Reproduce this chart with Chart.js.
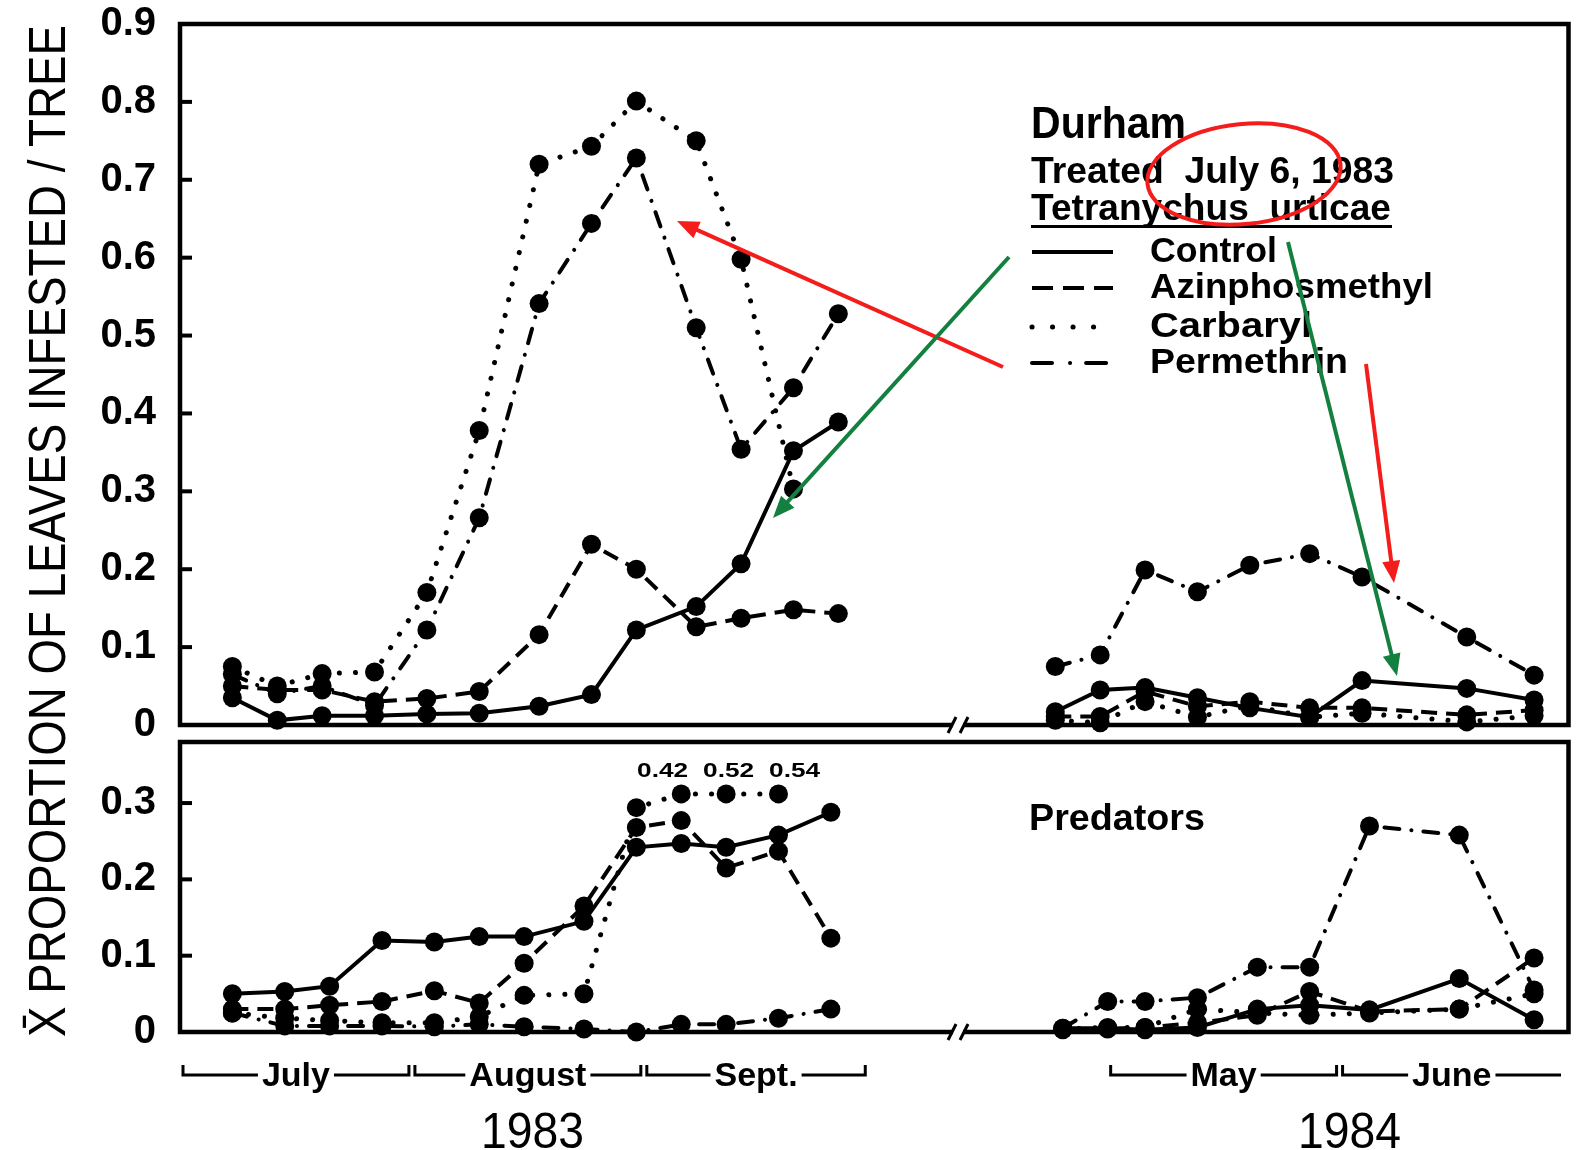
<!DOCTYPE html>
<html>
<head>
<meta charset="utf-8">
<script src="https://cdn.jsdelivr.net/npm/chart.js@4.4.1/dist/chart.umd.min.js"></script>
<style>
  html, body { margin: 0; padding: 0; background: #fff; }
  #wrap { position: relative; width: 1578px; height: 1150px; }
  #wrap canvas { position: absolute; left: 0; top: 0; }
</style>
</head>
<body>
<div id="wrap">
  <canvas id="mites" width="1578" height="1150"></canvas>
  <canvas id="preds" width="1578" height="1150"></canvas>
</div>
<script>
// Sample dates: days after July 1 1983, and days after May 1 1984
const miteDays1983 = [7, 13, 19, 26, 33, 40, 48, 55, 61, 69, 75, 82, 88];
const miteDays1984 = [-7, -1, 5, 12, 19, 27, 34, 48, 57];
const predDays1983 = [7, 14, 20, 27, 34, 40, 46, 54, 61, 67, 73, 80, 87];
const predDays1984 = [-6, 0, 5, 12, 20, 27, 35, 47, 57];
const may1984 = 124; // where May 1 1984 sits on the broken time axis

const treatments = ['Control', 'Azinphosmethyl', 'Carbaryl', 'Permethrin'];

// Tetranychus urticae, proportion of leaves infested
const miteControl1983 = [0.035, 0.006, 0.012, 0.012, 0.014, 0.015, 0.024, 0.039, 0.122, 0.152, 0.207, 0.352, 0.389];
const miteAzinphos1983 = [0.05, 0.045, 0.045, 0.03, 0.034, 0.043, 0.116, 0.232, 0.2, 0.126, 0.137, 0.148, 0.143];
const miteCarbaryl1983 = [0.075, 0.05, 0.066, 0.068, 0.17, 0.378, 0.72, 0.743, 0.801, 0.75, 0.598, 0.303];
const mitePermethrin1983 = [0.065, 0.04, 0.05, 0.025, 0.122, 0.266, 0.541, 0.644, 0.728, 0.51, 0.354, 0.433, 0.528];
const miteControl1984 = [0.017, 0.045, 0.048, 0.035, 0.022, 0.01, 0.057, 0.047, 0.032];
const miteAzinphos1984 = [0.011, 0.011, 0.043, 0.024, 0.03, 0.022, 0.022, 0.013, 0.019];
const miteCarbaryl1984 = [0.006, 0.003, 0.03, 0.01, 0.025, 0.01, 0.015, 0.004, 0.012];
const mitePermethrin1984 = [0.075, 0.09, 0.199, 0.171, 0.205, 0.22, 0.19, 0.113, 0.064];

// Predators
const predControl1983 = [0.05, 0.053, 0.06, 0.12, 0.118, 0.125, 0.125, 0.145, 0.242, 0.247, 0.242, 0.258, 0.288];
const predAzinphos1983 = [0.03, 0.03, 0.035, 0.04, 0.054, 0.038, 0.09, 0.165, 0.268, 0.277, 0.215, 0.237, 0.123];
const predCarbaryl1983 = [0.025, 0.018, 0.015, 0.012, 0.012, 0.02, 0.048, 0.05, 0.294, 0.42, 0.52, 0.54];
const predPermethrin1983 = [0.025, 0.008, 0.008, 0.008, 0.007, 0.01, 0.007, 0.004, 0.0, 0.01, 0.01, 0.018, 0.03];
const predControl1984 = [0.005, 0.005, 0.003, 0.006, 0.03, 0.035, 0.029, 0.07, 0.016];
const predAzinphos1984 = [0.003, 0.004, 0.006, 0.012, 0.022, 0.053, 0.027, 0.03, 0.097];
const predCarbaryl1984 = [0.004, 0.006, 0.006, 0.03, 0.025, 0.022, 0.025, 0.03, 0.05];
const predPermethrin1984 = [0.005, 0.04, 0.04, 0.045, 0.085, 0.085, 0.27, 0.258, 0.055];
const predCap = 0.312; // off-scale values are drawn here and labelled

const miteTicks = [0, 0.1, 0.2, 0.3, 0.4, 0.5, 0.6, 0.7, 0.8, 0.9];
const predTicks = [0, 0.1, 0.2, 0.3];

const monthNames = ['July', 'August', 'Sept.', 'May', 'June'];
const monthStarts = [0, 31, 62, may1984, may1984 + 31];
const monthEnds = [31, 62, 92, may1984 + 31, may1984 + 61];

const FONT = '"Liberation Sans", Arial, sans-serif';
const RED = '#f51c1c';
const GREEN = '#13803f';

const lineStyles = {
  Control: { dash: [], cap: 'butt', width: 4 },
  Azinphosmethyl: { dash: [16, 9], cap: 'butt', width: 4 },
  Carbaryl: { dash: [0.1, 16], cap: 'round', width: 5 },
  Permethrin: { dash: [15, 12, 0.1, 12], cap: 'round', width: 4 }
};

function lineSet(name, days, offset, values, cap) {
  const st = lineStyles[name];
  return {
    label: name,
    data: values.map((v, i) => ({ x: days[i] + offset, y: cap === undefined ? v : Math.min(v, cap), value: v })),
    borderColor: '#000',
    backgroundColor: '#000',
    borderWidth: st.width,
    borderDash: st.dash,
    borderCapStyle: st.cap,
    pointRadius: 9.5,
    pointBackgroundColor: '#000',
    pointBorderWidth: 0,
    tension: 0,
    clip: false
  };
}

// Draw text with its left edge at x (or centre), stretched to a given width
function fitText(ctx, text, x, y, width, font, align) {
  ctx.save();
  ctx.font = font;
  const natural = ctx.measureText(text).width;
  const sx = width ? width / natural : 1;
  const left = align === 'center' ? x - natural * sx / 2 : x;
  ctx.translate(left, y);
  ctx.scale(sx, 1);
  ctx.textAlign = 'left';
  ctx.textBaseline = 'alphabetic';
  ctx.fillStyle = '#000';
  ctx.fillText(text, 0, 0);
  ctx.restore();
}

function arrow(ctx, x1, y1, x2, y2, color) {
  const a = Math.atan2(y2 - y1, x2 - x1);
  const c = Math.cos(a), s = Math.sin(a);
  const head = 22, half = 9;
  ctx.save();
  ctx.strokeStyle = color;
  ctx.fillStyle = color;
  ctx.lineWidth = 4;
  ctx.beginPath();
  ctx.moveTo(x1, y1);
  ctx.lineTo(x2 - c * head * 0.8, y2 - s * head * 0.8);
  ctx.stroke();
  ctx.beginPath();
  ctx.moveTo(x2, y2);
  ctx.lineTo(x2 - head * c + half * s, y2 - head * s - half * c);
  ctx.lineTo(x2 - head * c - half * s, y2 - head * s + half * c);
  ctx.closePath();
  ctx.fill();
  ctx.restore();
}

// Box, inward ticks and the axis break
function drawFrame(chart, ticks) {
  const ctx = chart.ctx;
  const a = chart.chartArea;
  const y = chart.scales.y;
  ctx.save();
  ctx.strokeStyle = '#000';
  ctx.lineWidth = 4.5;
  ctx.strokeRect(a.left, a.top, a.right - a.left, a.bottom - a.top);
  ctx.lineWidth = 4;
  ticks.forEach(v => {
    if (v === 0) return;
    const py = y.getPixelForValue(v);
    ctx.beginPath();
    ctx.moveTo(a.left, py);
    ctx.lineTo(a.left + 12, py);
    ctx.stroke();
  });
  // broken axis between the two seasons
  const bx = chart.scales.x.getPixelForValue(104);
  ctx.fillStyle = '#fff';
  ctx.fillRect(bx - 5, a.bottom - 4, 10, 8);
  ctx.lineWidth = 3;
  [-6, 6].forEach(d => {
    ctx.beginPath();
    ctx.moveTo(bx + d - 4, a.bottom + 8);
    ctx.lineTo(bx + d + 4, a.bottom - 8);
    ctx.stroke();
  });
  ctx.restore();
}

function legendSample(ctx, name, x1, x2, y) {
  ctx.save();
  ctx.strokeStyle = '#000';
  ctx.lineWidth = 4;
  if (name === 'Permethrin') {
    ctx.lineCap = 'round';
    ctx.setLineDash([20, 18, 0.1, 16]);
  } else if (name === 'Carbaryl') {
    ctx.lineCap = 'round';
    ctx.lineWidth = 5;
    ctx.setLineDash([0.1, 20.4]);
  } else if (name === 'Azinphosmethyl') {
    ctx.setLineDash([21, 10]);
  }
  ctx.beginPath();
  ctx.moveTo(x1, y);
  ctx.lineTo(x2, y);
  ctx.stroke();
  ctx.restore();
}

const tickFont = { family: FONT, size: 40, weight: 'bold' };

function yScale(max, ticks) {
  return {
    min: 0,
    max: max,
    afterFit: s => {
      s.width = 180;
      s.paddingTop = 0;
      s.paddingBottom = 0;
    },
    afterBuildTicks: s => { s.ticks = ticks.map(v => ({ value: v })); },
    grid: { display: false, drawTicks: false },
    border: { display: false },
    ticks: {
      font: tickFont,
      color: '#000',
      padding: 24,
      callback: v => v === 0 ? '0' : v.toFixed(1)
    }
  };
}

const xScale = { type: 'linear', min: 0, max: 185.6, display: false };

const miteSets = [
  lineSet('Control', miteDays1983, 0, miteControl1983),
  lineSet('Azinphosmethyl', miteDays1983, 0, miteAzinphos1983),
  lineSet('Carbaryl', miteDays1983, 0, miteCarbaryl1983),
  lineSet('Permethrin', miteDays1983, 0, mitePermethrin1983),
  lineSet('Control', miteDays1984, may1984, miteControl1984),
  lineSet('Azinphosmethyl', miteDays1984, may1984, miteAzinphos1984),
  lineSet('Carbaryl', miteDays1984, may1984, miteCarbaryl1984),
  lineSet('Permethrin', miteDays1984, may1984, mitePermethrin1984)
];

const predSets = [
  lineSet('Control', predDays1983, 0, predControl1983, predCap),
  lineSet('Azinphosmethyl', predDays1983, 0, predAzinphos1983, predCap),
  lineSet('Carbaryl', predDays1983, 0, predCarbaryl1983, predCap),
  lineSet('Permethrin', predDays1983, 0, predPermethrin1983, predCap),
  lineSet('Control', predDays1984, may1984, predControl1984, predCap),
  lineSet('Azinphosmethyl', predDays1984, may1984, predAzinphos1984, predCap),
  lineSet('Carbaryl', predDays1984, may1984, predCarbaryl1984, predCap),
  lineSet('Permethrin', predDays1984, may1984, predPermethrin1984, predCap)
];

const miteDecor = {
  id: 'miteDecor',
  afterDraw(chart) {
    const ctx = chart.ctx;
    drawFrame(chart, miteTicks);

    // header and legend
    fitText(ctx, 'Durham', 1031, 138, 155, 'bold 44px ' + FONT);
    fitText(ctx, 'Treated  July 6, 1983', 1031, 183, 363, 'bold 37px ' + FONT);
    fitText(ctx, 'Tetranychus  urticae', 1031, 220, 360, 'bold 37px ' + FONT);
    ctx.save();
    ctx.fillStyle = '#000';
    ctx.fillRect(1031, 225, 361, 3);
    ctx.restore();
    const baselines = [262, 298, 337, 373];
    const widths = [127, 283, 162, 198];
    treatments.forEach((name, i) => {
      legendSample(ctx, name, 1032, 1113, baselines[i] - 10);
      fitText(ctx, name, 1150, baselines[i], widths[i], 'bold 35px ' + FONT);
    });

    // red ellipse and arrows
    ctx.save();
    ctx.strokeStyle = RED;
    ctx.lineWidth = 4;
    ctx.beginPath();
    ctx.ellipse(1244, 174, 97, 50, -0.1, 0, Math.PI * 2);
    ctx.stroke();
    ctx.restore();
    arrow(ctx, 1003, 367, 677, 221, RED);
    arrow(ctx, 1009, 257, 773, 518, GREEN);
    arrow(ctx, 1288, 242, 1397, 676, GREEN);
    arrow(ctx, 1366, 364, 1394, 583, RED);
  }
};

const predDecor = {
  id: 'predDecor',
  afterDraw(chart) {
    const ctx = chart.ctx;
    const xs = chart.scales.x;
    drawFrame(chart, predTicks);

    fitText(ctx, 'Predators', 1029, 830, 176, 'bold 36px ' + FONT);

    // values above the top of the scale, spread so they do not collide
    const capped = [];
    chart.data.datasets.forEach((ds, di) => {
      const meta = chart.getDatasetMeta(di);
      ds.data.forEach((d, i) => {
        if (d.value > d.y) capped.push({ v: d.value, x: meta.data[i].x, y: meta.data[i].y });
      });
    });
    if (capped.length) {
      const gap = 66;
      const mid = capped.reduce((s, c) => s + c.x, 0) / capped.length;
      capped.forEach((c, i) => {
        const cx = mid + (i - (capped.length - 1) / 2) * gap;
        fitText(ctx, c.v.toFixed(2), cx, c.y - 17, 51, 'bold 21px ' + FONT, 'center');
      });
    }

    // month brackets
    ctx.save();
    ctx.strokeStyle = '#000';
    ctx.lineWidth = 3;
    ctx.font = 'bold 34px ' + FONT;
    monthNames.forEach((m, i) => {
      const x1 = xs.getPixelForValue(monthStarts[i]) + 3;
      const x2 = Math.min(xs.getPixelForValue(monthEnds[i]) - 3, chart.chartArea.right);
      const cx = (x1 + x2) / 2;
      const w = ctx.measureText(m).width;
      const ly = 1075;
      ctx.beginPath();
      ctx.moveTo(x1, ly - 10);
      ctx.lineTo(x1, ly);
      ctx.lineTo(cx - w / 2 - 4, ly);
      ctx.moveTo(cx + w / 2 + 4, ly);
      ctx.lineTo(x2, ly);
      if (i !== monthNames.length - 1) ctx.lineTo(x2, ly - 10);
      ctx.stroke();
      fitText(ctx, m, cx, 1086, null, 'bold 34px ' + FONT, 'center');
    });
    ctx.restore();

    fitText(ctx, '1983', 481, 1148, 103, '50px ' + FONT);
    fitText(ctx, '1984', 1298, 1148, 103, '50px ' + FONT);

    // y-axis title spanning both panels
    ctx.save();
    ctx.translate(65, 1037);
    ctx.rotate(-Math.PI / 2);
    fitText(ctx, 'X\u0304 PROPORTION OF LEAVES INFESTED / TREE', 0, 0, 1012, '52px ' + FONT);
    ctx.restore();
  }
};

const common = {
  responsive: false,
  animation: false,
  events: [],
  plugins: { legend: { display: false }, tooltip: { enabled: false } }
};

new Chart(document.getElementById('mites'), {
  type: 'line',
  data: { datasets: miteSets },
  options: Object.assign({}, common, {
    layout: { padding: { left: 0, right: 6, top: 24, bottom: 425 } },
    scales: { x: xScale, y: yScale(0.9, miteTicks) }
  }),
  plugins: [miteDecor]
});

new Chart(document.getElementById('preds'), {
  type: 'line',
  data: { datasets: predSets },
  options: Object.assign({}, common, {
    layout: { padding: { left: 0, right: 6, top: 742, bottom: 118 } },
    scales: { x: xScale, y: yScale(0.38, predTicks) }
  }),
  plugins: [predDecor]
});
</script>
</body>
</html>
